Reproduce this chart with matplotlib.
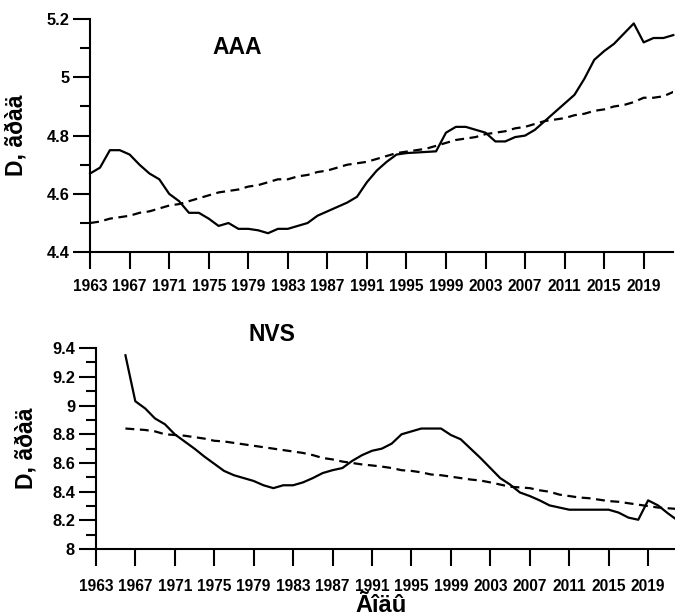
import numpy as np
import matplotlib
matplotlib.use("Agg")
import matplotlib.pyplot as plt
from matplotlib.ticker import MultipleLocator, FuncFormatter

plt.rcParams['font.family'] = ['Liberation Sans', 'DejaVu Sans']

# ---------------- data ----------------
years_aaa = list(range(1963, 2023))
aaa_obs = [4.67, 4.69, 4.75, 4.75, 4.735, 4.70, 4.67, 4.65, 4.60, 4.575,
           4.535, 4.535, 4.515, 4.49, 4.50, 4.48, 4.48, 4.475, 4.465, 4.48,
           4.48, 4.49, 4.50, 4.525, 4.54, 4.555, 4.57, 4.59, 4.64, 4.68,
           4.71, 4.735, 4.74, 4.742, 4.744, 4.746, 4.81, 4.83, 4.83, 4.82,
           4.81, 4.78, 4.78, 4.795, 4.80, 4.82, 4.85, 4.88, 4.91, 4.94,
           4.995, 5.06, 5.09, 5.115, 5.15, 5.185, 5.12, 5.135, 5.135, 5.145]
aaa_trend = [4.50, 4.505, 4.515, 4.52, 4.525, 4.535, 4.54, 4.55, 4.56, 4.565,
             4.575, 4.585, 4.595, 4.605, 4.61, 4.615, 4.625, 4.63, 4.64, 4.65,
             4.65, 4.66, 4.665, 4.675, 4.68, 4.69, 4.70, 4.705, 4.71, 4.72,
             4.73, 4.74, 4.745, 4.75, 4.755, 4.765, 4.775, 4.785, 4.79, 4.795,
             4.805, 4.81, 4.815, 4.825, 4.83, 4.84, 4.85, 4.855, 4.86, 4.87,
             4.875, 4.885, 4.89, 4.90, 4.905, 4.915, 4.93, 4.93, 4.935, 4.95]

years_nvs = list(range(1966, 2023))
nvs_obs = [9.35, 9.03, 8.98, 8.91, 8.87, 8.80, 8.75, 8.70, 8.645, 8.595,
           8.545, 8.515, 8.495, 8.475, 8.445, 8.425, 8.445, 8.445, 8.465, 8.495,
           8.53, 8.55, 8.565, 8.615, 8.655, 8.685, 8.70, 8.735, 8.80, 8.82,
           8.84, 8.84, 8.84, 8.795, 8.765, 8.70, 8.635, 8.565, 8.495, 8.45,
           8.395, 8.37, 8.34, 8.305, 8.29, 8.275, 8.275, 8.275, 8.275, 8.275,
           8.255, 8.22, 8.205, 8.34, 8.305, 8.25, 8.20]
nvs_trend = [8.84, 8.835, 8.83, 8.82, 8.80, 8.795, 8.79, 8.78, 8.77, 8.755,
             8.75, 8.74, 8.73, 8.72, 8.71, 8.70, 8.69, 8.68, 8.67, 8.655,
             8.635, 8.625, 8.61, 8.60, 8.59, 8.583, 8.575, 8.565, 8.55, 8.545,
             8.535, 8.52, 8.515, 8.505, 8.495, 8.485, 8.478, 8.465, 8.45, 8.435,
             8.43, 8.425, 8.41, 8.40, 8.38, 8.37, 8.36, 8.355, 8.345, 8.335,
             8.33, 8.32, 8.31, 8.30, 8.29, 8.285, 8.28]

xticks = list(range(1963, 2020, 4))
title_top = "AAA"
title_bot = "NVS"
ylabel = "D, ãðàä"
xlabel = "Ãîäû"

# ---------------- figure ----------------
fig = plt.figure(figsize=(6.75, 6.15), dpi=100)
ax1 = fig.add_axes([0.1335, 0.590, 0.864, 0.379])
ax2 = fig.add_axes([0.142, 0.107, 0.862, 0.327])

lw = 1.6
fmt = FuncFormatter(lambda v, p: ('%g' % round(v, 2)))

def style(ax, ylim, major, minor):
    ax.set_xlim(1963, 2022)
    ax.set_ylim(*ylim)
    for s in ['top', 'right']:
        ax.spines[s].set_visible(False)
    for s in ['left', 'bottom']:
        ax.spines[s].set_linewidth(1.5)
    ax.set_xticks(xticks)
    ax.set_xticklabels([str(y) for y in xticks])
    ax.yaxis.set_major_locator(MultipleLocator(major))
    ax.yaxis.set_minor_locator(MultipleLocator(minor))
    ax.yaxis.set_major_formatter(fmt)
    ax.tick_params(axis='x', which='major', direction='out', length=12.5, width=1.5,
                   labelsize=11.2, pad=7)
    ax.tick_params(axis='y', which='major', direction='out', length=12, width=1.5,
                   labelsize=11.8, pad=3)
    ax.tick_params(axis='y', which='minor', direction='out', length=7, width=1.5)
    for lab in ax.get_xticklabels() + ax.get_yticklabels():
        lab.set_fontweight('bold')
    ax.set_ylabel(ylabel, fontsize=16.5, fontweight='bold')

style(ax1, (4.4, 5.2), 0.2, 0.1)
ax1.plot(years_aaa, aaa_obs, color='black', lw=lw, solid_joinstyle='round', clip_on=False)
ax1.plot(years_aaa, aaa_trend, color='black', lw=lw, dashes=(4, 2.5))
ax1.yaxis.set_label_coords(-0.108, 0.5)
ax1.text(0.253, 0.88, title_top, transform=ax1.transAxes, fontsize=16.5,
         fontweight='bold', ha='center', va='center')

style(ax2, (8.0, 9.4), 0.2, 0.1)
ax2.plot(years_nvs, nvs_obs, color='black', lw=lw, solid_joinstyle='round')
ax2.plot(years_nvs, nvs_trend, color='black', lw=lw, dashes=(4, 2.5))
ax2.yaxis.set_label_coords(-0.1, 0.5)
ax2.tick_params(axis='x', which='major', pad=9)
ax2.text(0.303, 1.07, title_bot, transform=ax2.transAxes, fontsize=16.5,
         fontweight='bold', ha='center', va='center')
fig.text(381 / 675, 1 - 605 / 615, xlabel, fontsize=17, fontweight='bold',
         ha='center', va='center')

fig.savefig("out.png", dpi=100)
